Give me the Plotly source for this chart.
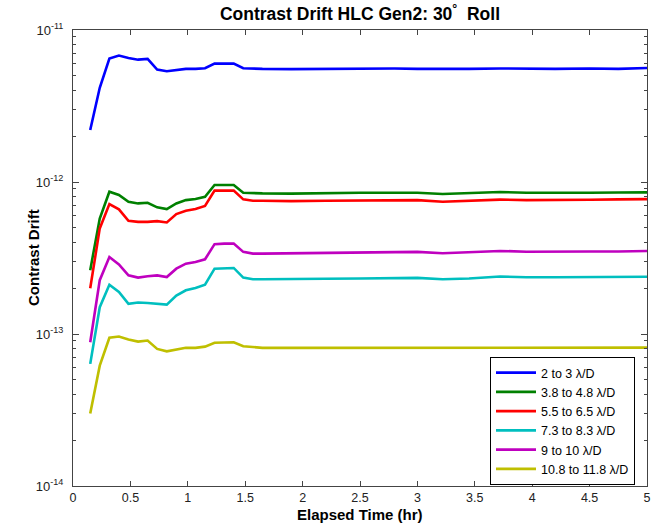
import plotly.graph_objects as go

# Elapsed time (hr)
time_hr = [0.15, 0.233, 0.317, 0.4, 0.483, 0.567, 0.65, 0.733, 0.817, 0.9,
           0.983, 1.067, 1.15, 1.233, 1.317, 1.4, 1.483, 1.567, 1.65,
           1.9, 2.2, 2.5, 2.8, 3.0, 3.22, 3.45, 3.72, 3.95, 4.2, 4.5, 4.75, 5.0]

band_2_3 = [2.20e-12, 4.17e-12, 6.49e-12, 6.79e-12, 6.55e-12, 6.38e-12, 6.46e-12, 5.49e-12,
            5.35e-12, 5.43e-12, 5.55e-12, 5.55e-12, 5.60e-12, 6.01e-12, 6.01e-12, 6.01e-12,
            5.60e-12, 5.55e-12, 5.55e-12,
            5.53e-12, 5.55e-12, 5.58e-12, 5.58e-12, 5.55e-12, 5.53e-12, 5.55e-12, 5.58e-12,
            5.55e-12, 5.55e-12, 5.58e-12, 5.55e-12, 5.62e-12]

band_38_48 = [2.63e-13, 5.75e-13, 8.63e-13, 8.21e-13, 7.41e-13, 7.23e-13, 7.30e-13, 6.81e-13,
              6.64e-13, 7.23e-13, 7.60e-13, 7.73e-13, 8.00e-13, 9.55e-13, 9.55e-13, 9.55e-13,
              8.50e-13, 8.42e-13, 8.42e-13,
              8.39e-13, 8.46e-13, 8.50e-13, 8.50e-13, 8.50e-13, 8.33e-13, 8.46e-13, 8.59e-13,
              8.50e-13, 8.46e-13, 8.50e-13, 8.53e-13, 8.55e-13]

band_55_65 = [2.00e-13, 4.95e-13, 7.16e-13, 6.61e-13, 5.55e-13, 5.47e-13, 5.47e-13, 5.53e-13,
              5.42e-13, 6.15e-13, 6.47e-13, 6.64e-13, 6.95e-13, 8.77e-13, 8.77e-13, 8.77e-13,
              7.69e-13, 7.53e-13, 7.53e-13,
              7.49e-13, 7.53e-13, 7.57e-13, 7.60e-13, 7.60e-13, 7.41e-13, 7.53e-13, 7.66e-13,
              7.60e-13, 7.60e-13, 7.64e-13, 7.69e-13, 7.72e-13]

band_73_83 = [6.36e-14, 1.50e-13, 2.11e-13, 1.89e-13, 1.58e-13, 1.61e-13, 1.60e-13, 1.58e-13,
              1.56e-13, 1.79e-13, 1.94e-13, 2.01e-13, 2.11e-13, 2.69e-13, 2.71e-13, 2.72e-13,
              2.35e-13, 2.29e-13, 2.29e-13,
              2.31e-13, 2.31e-13, 2.32e-13, 2.33e-13, 2.34e-13, 2.29e-13, 2.32e-13, 2.39e-13,
              2.36e-13, 2.36e-13, 2.37e-13, 2.38e-13, 2.38e-13]

band_9_10 = [8.83e-14, 2.26e-13, 3.21e-13, 2.87e-13, 2.43e-13, 2.35e-13, 2.40e-13, 2.43e-13,
             2.37e-13, 2.69e-13, 2.90e-13, 2.98e-13, 3.10e-13, 3.90e-13, 3.93e-13, 3.94e-13,
             3.47e-13, 3.38e-13, 3.38e-13,
             3.40e-13, 3.42e-13, 3.45e-13, 3.47e-13, 3.47e-13, 3.40e-13, 3.45e-13, 3.52e-13,
             3.48e-13, 3.47e-13, 3.49e-13, 3.49e-13, 3.52e-13]

band_108_118 = [3.00e-14, 6.19e-14, 9.44e-14, 9.62e-14, 9.20e-14, 8.91e-14, 9.06e-14, 7.98e-14,
                7.69e-14, 7.90e-14, 8.11e-14, 8.11e-14, 8.26e-14, 8.75e-14, 8.78e-14, 8.83e-14,
                8.30e-14, 8.18e-14, 8.11e-14,
                8.11e-14, 8.11e-14, 8.13e-14, 8.11e-14, 8.11e-14, 8.09e-14, 8.11e-14, 8.13e-14,
                8.11e-14, 8.11e-14, 8.11e-14, 8.13e-14, 8.13e-14]

series_names = ["2 to 3 \u03bb/D", "3.8 to 4.8 \u03bb/D", "5.5 to 6.5 \u03bb/D",
                "7.3 to 8.3 \u03bb/D", "9 to 10 \u03bb/D", "10.8 to 11.8 \u03bb/D"]
series_values = [band_2_3, band_38_48, band_55_65, band_73_83, band_9_10, band_108_118]
series_colors = ["rgb(0,0,255)", "rgb(0,128,0)", "rgb(255,0,0)",
                 "rgb(0,191,191)", "rgb(191,0,191)", "rgb(191,191,0)"]

x_ticks = [0, 0.5, 1, 1.5, 2, 2.5, 3, 3.5, 4, 4.5, 5]
x_ticktext = ["0", "0.5", "1", "1.5", "2", "2.5", "3", "3.5", "4", "4.5", "5"]
y_ticks = [1e-14, 1e-13, 1e-12, 1e-11]
y_ticktext = ["10<sup>-14</sup>", "10<sup>-13</sup>", "10<sup>-12</sup>", "10<sup>-11</sup>"]
y_minor = [m * d for d in (1e-14, 1e-13, 1e-12) for m in range(2, 10)]

FONT = "Liberation Sans, Arial, sans-serif"

fig = go.Figure()
for name, vals, col in zip(series_names, series_values, series_colors):
    fig.add_trace(go.Scatter(x=time_hr, y=vals, mode="lines", name=name,
                             line=dict(color=col, width=2.6)))

axis_common = dict(showline=True, linecolor="#444", linewidth=1, mirror="ticks",
                   ticks="inside", tickcolor="#444", showgrid=False, zeroline=False,
                   automargin=False)

fig.update_layout(
    width=654, height=526,
    margin=dict(l=73, r=7, t=30, b=40),
    paper_bgcolor="white", plot_bgcolor="white",
    font=dict(family=FONT, color="black"),
    title=dict(text="<b>Contrast Drift HLC Gen2: 30<sup>\u00b0</sup>  Roll</b>",
               x=0.5, xref="paper", y=1 - 14 / 526, yref="container",
               xanchor="center", yanchor="middle",
               font=dict(family=FONT, size=17.5, color="black")),
    xaxis=dict(range=[0, 5], tickvals=x_ticks, ticktext=x_ticktext, ticklen=5,
               tickfont=dict(family=FONT, size=12.5, color="#222"),
               **axis_common),
    yaxis=dict(type="log", range=[-14, -11], tickvals=y_ticks, ticktext=y_ticktext,
               ticklen=6, ticklabelstandoff=6,
               tickfont=dict(family=FONT, size=13, color="#222"),
               minor=dict(tickvals=y_minor, ticks="inside", ticklen=3, tickcolor="#444",
                          showgrid=False),
               **axis_common),
    annotations=[
        dict(text="<b>Contrast Drift</b>", xref="paper", yref="paper",
             x=(33 - 73) / 574, y=0.5, textangle=-90, showarrow=False,
             xanchor="center", yanchor="middle",
             font=dict(family=FONT, size=15, color="black")),
        dict(text="<b>Elapsed Time (hr)</b>", xref="paper", yref="paper",
             x=0.5, y=-(514 - 486) / 456, showarrow=False,
             xanchor="center", yanchor="middle",
             font=dict(family=FONT, size=15, color="black")),
    ],
    showlegend=True,
    legend=dict(x=(490 - 73) / 574, y=(486 - 421) / 456, xanchor="left", yanchor="middle",
                bgcolor="white", bordercolor="black", borderwidth=1,
                font=dict(family=FONT, size=12.5, color="black"),
                tracegroupgap=0, itemwidth=40),
)

fig.write_html("out.html", config={"displayModeBar": False},
               post_script="document.body.style.margin='0';")
